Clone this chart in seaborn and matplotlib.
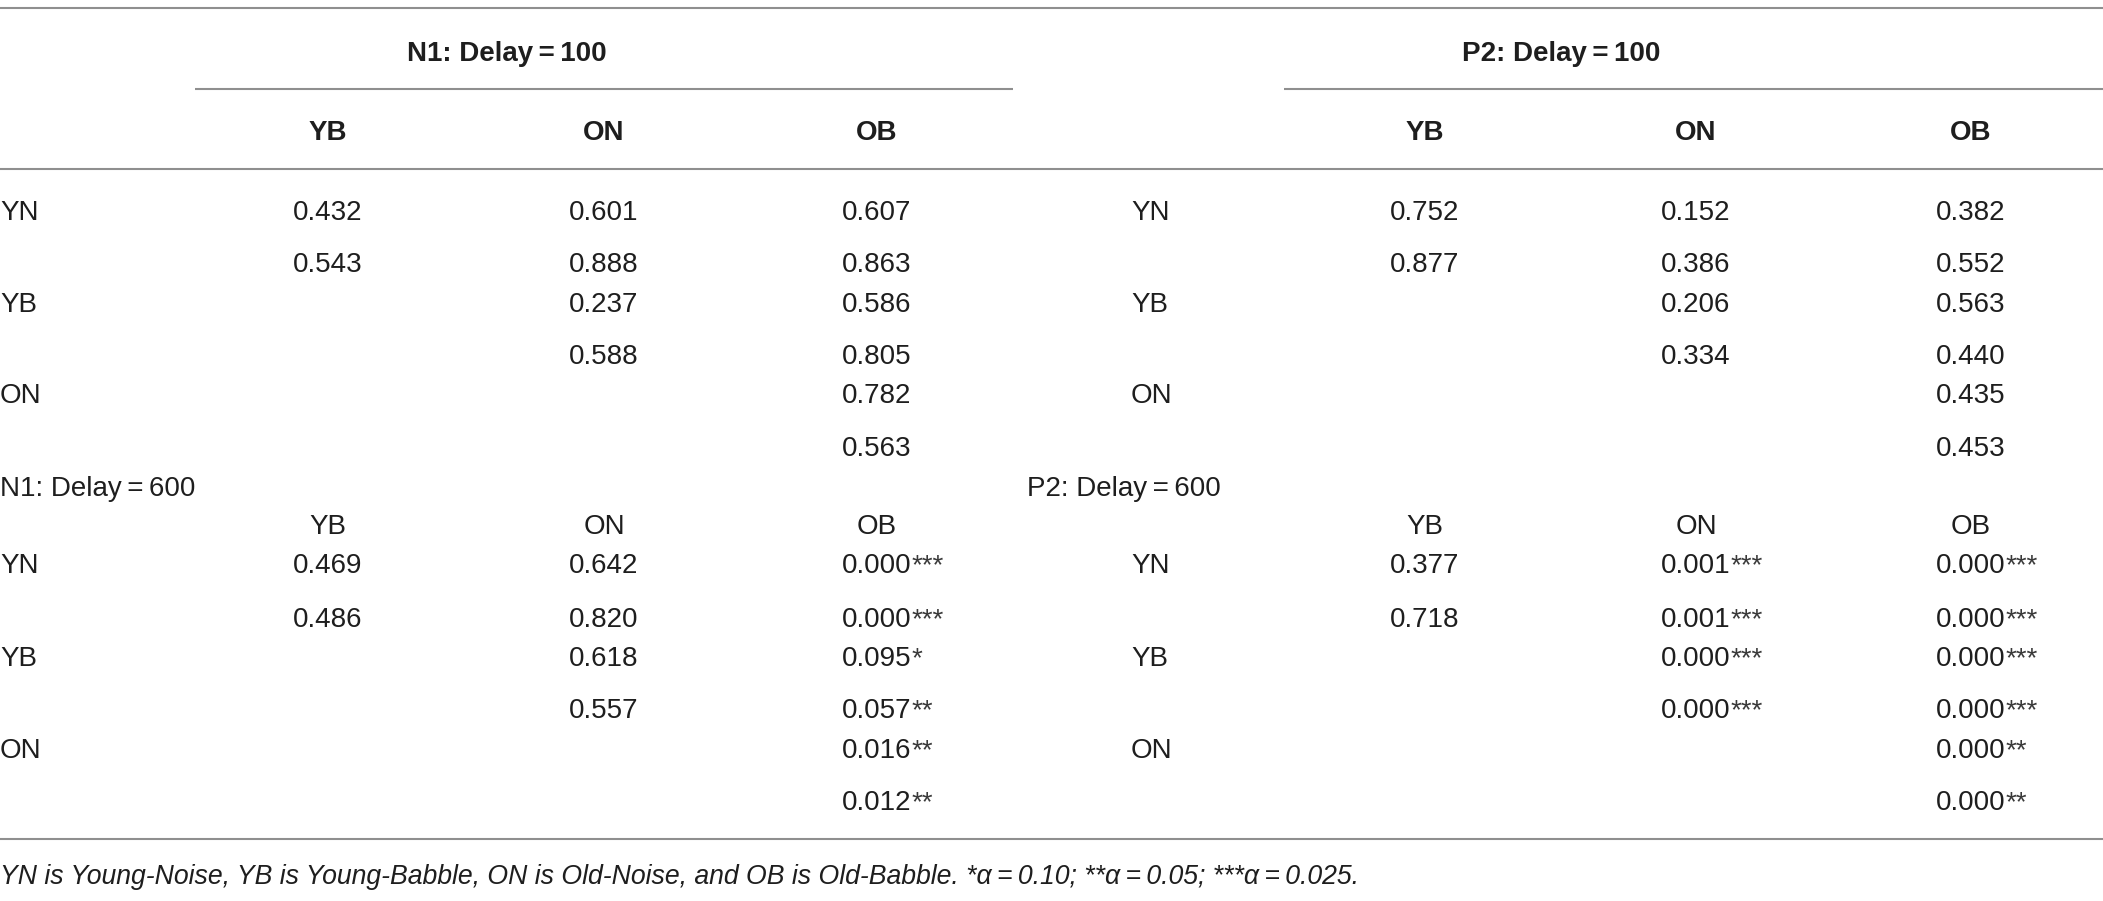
import numpy as np
import matplotlib
matplotlib.use('Agg')
import matplotlib.pyplot as plt
import seaborn as sns

nan = np.nan

# ----------------------------- data -----------------------------
row_labels = ['YN', 'YB', 'ON']
col_labels = ['YB', 'ON', 'OB']

n1_d100 = [[0.432, 0.601, 0.607],
           [0.543, 0.888, 0.863],
           [nan, 0.237, 0.586],
           [nan, 0.588, 0.805],
           [nan, nan, 0.782],
           [nan, nan, 0.563]]

p2_d100 = [[0.752, 0.152, 0.382],
           [0.877, 0.386, 0.552],
           [nan, 0.206, 0.563],
           [nan, 0.334, 0.440],
           [nan, nan, 0.435],
           [nan, nan, 0.453]]

n1_d600 = [[0.469, 0.642, 0.000],
           [0.486, 0.820, 0.000],
           [nan, 0.618, 0.095],
           [nan, 0.557, 0.057],
           [nan, nan, 0.016],
           [nan, nan, 0.012]]
n1_d600_sig = [['', '', '***'],
               ['', '', '***'],
               ['', '', '*'],
               ['', '', '**'],
               ['', '', '**'],
               ['', '', '**']]

p2_d600 = [[0.377, 0.001, 0.000],
           [0.718, 0.001, 0.000],
           [nan, 0.000, 0.000],
           [nan, 0.000, 0.000],
           [nan, nan, 0.000],
           [nan, nan, 0.000]]
p2_d600_sig = [['', '***', '***'],
               ['', '***', '***'],
               ['', '***', '***'],
               ['', '***', '***'],
               ['', '', '**'],
               ['', '', '**']]

no_sig = [[''] * 3 for _ in range(6)]

ts = '\u2009'
footnote = ('YN is Young-Noise, YB is Young-Babble, ON is Old-Noise, and OB is Old-Babble. '
            f'*α{ts}={ts}0.10; **α{ts}={ts}0.05; ***α{ts}={ts}0.025.')

# ----------------------------- style -----------------------------
sns.set_theme(style='white')
plt.rcParams['font.family'] = ['Liberation Sans', 'DejaVu Sans']
txt_col = '#1e1e1e'
line_col = '#8f8f8f'
fs = 20

W, H = 2103, 901
fig = plt.figure(figsize=(W / 100, H / 100), dpi=100)
ax = fig.add_axes([0, 0, 1, 1])
ax.set_xlim(0, W)
ax.set_ylim(H, 0)
ax.axis('off')

# layout (pixel coords)
blocks = {
    'N1': dict(span=(0, 1013), sub=(195, 1013), cols=[328, 604, 877], lab_x=0, sec_x=0),
    'P2': dict(span=(1020, 2103), sub=(1284, 2103), cols=[1425, 1696, 1971], lab_x=1131, sec_x=1027),
}
rows_top = [210, 262, 302, 354, 393, 446]
rows_bot = [563, 617, 656, 708, 748, 800]
cap = 10  # half cap height, baseline offset


def put(x, y, s, ha='center', weight='normal', style='normal', size=fs):
    return ax.text(x, y + cap, s, ha=ha, va='baseline', fontsize=size,
                   fontweight=weight, fontstyle=style, color=txt_col)


def draw_cells(blk, vals, sig, ys):
    for i, row in enumerate(vals):
        if i % 2 == 0:
            put(blk['lab_x'], ys[i], row_labels[i // 2], ha='left')
        for j, v in enumerate(row):
            if np.isnan(v):
                continue
            t = put(blk['cols'][j], ys[i], f'{v:.3f}')
            if sig[i][j]:
                ax.annotate(sig[i][j], xy=(1, 0), xycoords=t, ha='left', va='bottom',
                            fontsize=fs, color='#3a3a3a')


# rules
ax.hlines([8, 169, 839], 0, W, color=line_col, lw=1.5)
for name, blk in blocks.items():
    ax.hlines(89, blk['sub'][0], blk['sub'][1], color=line_col, lw=1.5)
    put(sum(blk['span']) / 2, 51, f'{name}: Delay{ts}={ts}100', weight='bold')
    for x, c in zip(blk['cols'], col_labels):
        put(x, 130, c, weight='bold')
    put(blk['sec_x'], 486, f'{name}: Delay{ts}={ts}600', ha='left')
    for x, c in zip(blk['cols'], col_labels):
        put(x, 524, c)

draw_cells(blocks['N1'], n1_d100, no_sig, rows_top)
draw_cells(blocks['P2'], p2_d100, no_sig, rows_top)
draw_cells(blocks['N1'], n1_d600, n1_d600_sig, rows_bot)
draw_cells(blocks['P2'], p2_d600, p2_d600_sig, rows_bot)

put(0, 874, footnote, ha='left', style='italic', size=19.2)

fig.savefig('out.png', dpi=100)
